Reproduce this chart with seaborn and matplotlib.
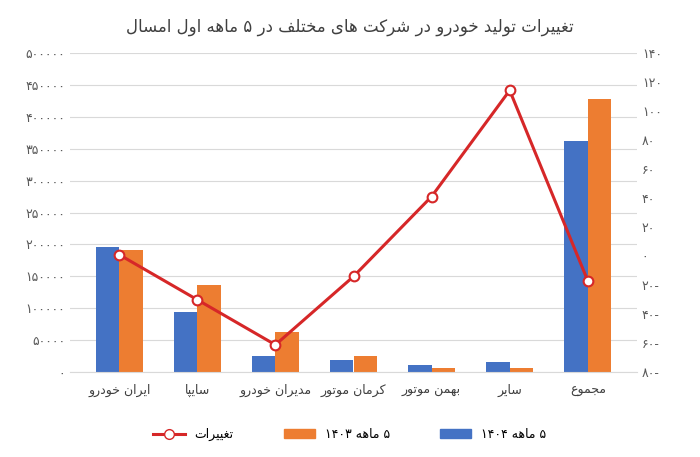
import matplotlib
matplotlib.use("Agg")
import matplotlib.pyplot as plt
import seaborn as sns
import pandas as pd
import re

categories = ["ایران خودرو", "سایپا", "مدیران خودرو", "کرمان موتور", "بهمن موتور", "سایر", "مجموع"]
prod_1404 = [196000, 95000, 25000, 20000, 11000, 16000, 362000]
prod_1403 = [191000, 137000, 64000, 25000, 7000, 7000, 428000]
change = [1, -30, -61, -14, 41, 114, -17]
series_names = ["۵ ماهه ۱۴۰۴", "۵ ماهه ۱۴۰۳"]
line_name = "تغییرات"
title = "تغییرات تولید خودرو در شرکت های مختلف در ۵ ماهه اول امسال"
left_ticks = list(range(0, 500001, 50000))
right_ticks = list(range(-80, 141, 20))

FA = str.maketrans("0123456789", "۰۱۲۳۴۵۶۷۸۹")

# contextual forms: (isolated, final, initial, medial); 2-tuple = right-joining only
FORMS = {
    "ا": (0xFE8D, 0xFE8E), "د": (0xFEA9, 0xFEAA), "ر": (0xFEAD, 0xFEAE),
    "ز": (0xFEAF, 0xFEB0), "و": (0xFEED, 0xFEEE),
    "ب": (0xFE8F, 0xFE90, 0xFE91, 0xFE92), "پ": (0xFB56, 0xFB57, 0xFB58, 0xFB59),
    "ت": (0xFE95, 0xFE96, 0xFE97, 0xFE98), "ج": (0xFE9D, 0xFE9E, 0xFE9F, 0xFEA0),
    "خ": (0xFEA5, 0xFEA6, 0xFEA7, 0xFEA8), "س": (0xFEB1, 0xFEB2, 0xFEB3, 0xFEB4),
    "ش": (0xFEB5, 0xFEB6, 0xFEB7, 0xFEB8), "ع": (0xFEC9, 0xFECA, 0xFECB, 0xFECC),
    "غ": (0xFECD, 0xFECE, 0xFECF, 0xFED0), "ف": (0xFED1, 0xFED2, 0xFED3, 0xFED4),
    "ک": (0xFB8E, 0xFB8F, 0xFB90, 0xFB91), "ل": (0xFEDD, 0xFEDE, 0xFEDF, 0xFEE0),
    "م": (0xFEE1, 0xFEE2, 0xFEE3, 0xFEE4), "ن": (0xFEE5, 0xFEE6, 0xFEE7, 0xFEE8),
    "ه": (0xFEE9, 0xFEEA, 0xFEEB, 0xFEEC), "ی": (0xFBFC, 0xFBFD, 0xFBFE, 0xFBFF),
}

def shape(s):
    out = []
    for i, c in enumerate(s):
        f = FORMS.get(c)
        if f is None:
            out.append(c); continue
        prev = s[i - 1] if i > 0 else ""
        nxt = s[i + 1] if i + 1 < len(s) else ""
        jp = prev in FORMS and len(FORMS[prev]) == 4
        jn = len(f) == 4 and nxt in FORMS
        if jp and jn: code = f[3]
        elif jp: code = f[1]
        elif jn: code = f[2]
        else: code = f[0]
        out.append(chr(code))
    return "".join(out)

def rtl(s):
    s = shape(s)
    parts = re.findall(r"[0-9۰-۹]+|.", s)
    return "".join(parts[::-1])

def fa_num(v):
    s = str(abs(int(v))).translate(FA)
    return s + "-" if v < 0 else s

plt.rcParams["font.family"] = ["DejaVu Sans", "Noto Sans"]
fig, ax = plt.subplots(figsize=(7, 4.57), dpi=100)
fig.subplots_adjust(left=0.1, right=0.91, top=0.885, bottom=0.185)

labels = [rtl(c) for c in categories]
df = pd.DataFrame({
    "cat": labels * 2,
    "val": prod_1404 + prod_1403,
    "ser": [rtl(series_names[0])] * 7 + [rtl(series_names[1])] * 7,
})
sns.barplot(data=df, x="cat", y="val", hue="ser", palette=["#4472C4", "#ED7D31"],
            ax=ax, width=0.6, saturation=1, legend=False)
ax.set_ylim(0, 500000)
ax.set_yticks(left_ticks)
ax.set_yticklabels([fa_num(v) for v in left_ticks], color="#595959", fontsize=9)
ax.set_xlabel(""); ax.set_ylabel("")
ax.tick_params(axis="x", colors="#404040", labelsize=9, length=0, pad=8)
ax.tick_params(axis="y", length=0)
ax.grid(axis="y", color="#D9D9D9", lw=0.8)
ax.set_axisbelow(True)
for s in ax.spines.values():
    s.set_visible(False)
ax.spines["bottom"].set_visible(True); ax.spines["bottom"].set_color("#D9D9D9")

ax2 = ax.twinx()
sns.lineplot(x=list(range(7)), y=change, ax=ax2, color="#D62728", lw=2.2,
             marker="o", markersize=7, markerfacecolor="white",
             markeredgecolor="#D62728", markeredgewidth=1.5)
ax2.set_ylim(-80, 140)
ax2.set_yticks(right_ticks)
ax2.set_yticklabels([fa_num(v) for v in right_ticks], color="#595959", fontsize=9)
ax2.tick_params(axis="y", length=0)
for s in ax2.spines.values():
    s.set_visible(False)

from matplotlib.patches import Patch
from matplotlib.lines import Line2D
handles = [Line2D([], [], color="#D62728", lw=2.2, marker="o", markerfacecolor="white", markersize=7),
           Patch(color="#ED7D31"), Patch(color="#4472C4")]
names = [rtl(line_name), rtl(series_names[1]), rtl(series_names[0])]
fig.legend(handles, names, loc="lower center", ncol=3, frameon=False, fontsize=9,
           bbox_to_anchor=(0.5, 0.01), handlelength=2.5, columnspacing=4)
fig.suptitle(rtl(title), color="#404040", fontsize=12, y=0.96)
fig.savefig("out.png", dpi=100)
